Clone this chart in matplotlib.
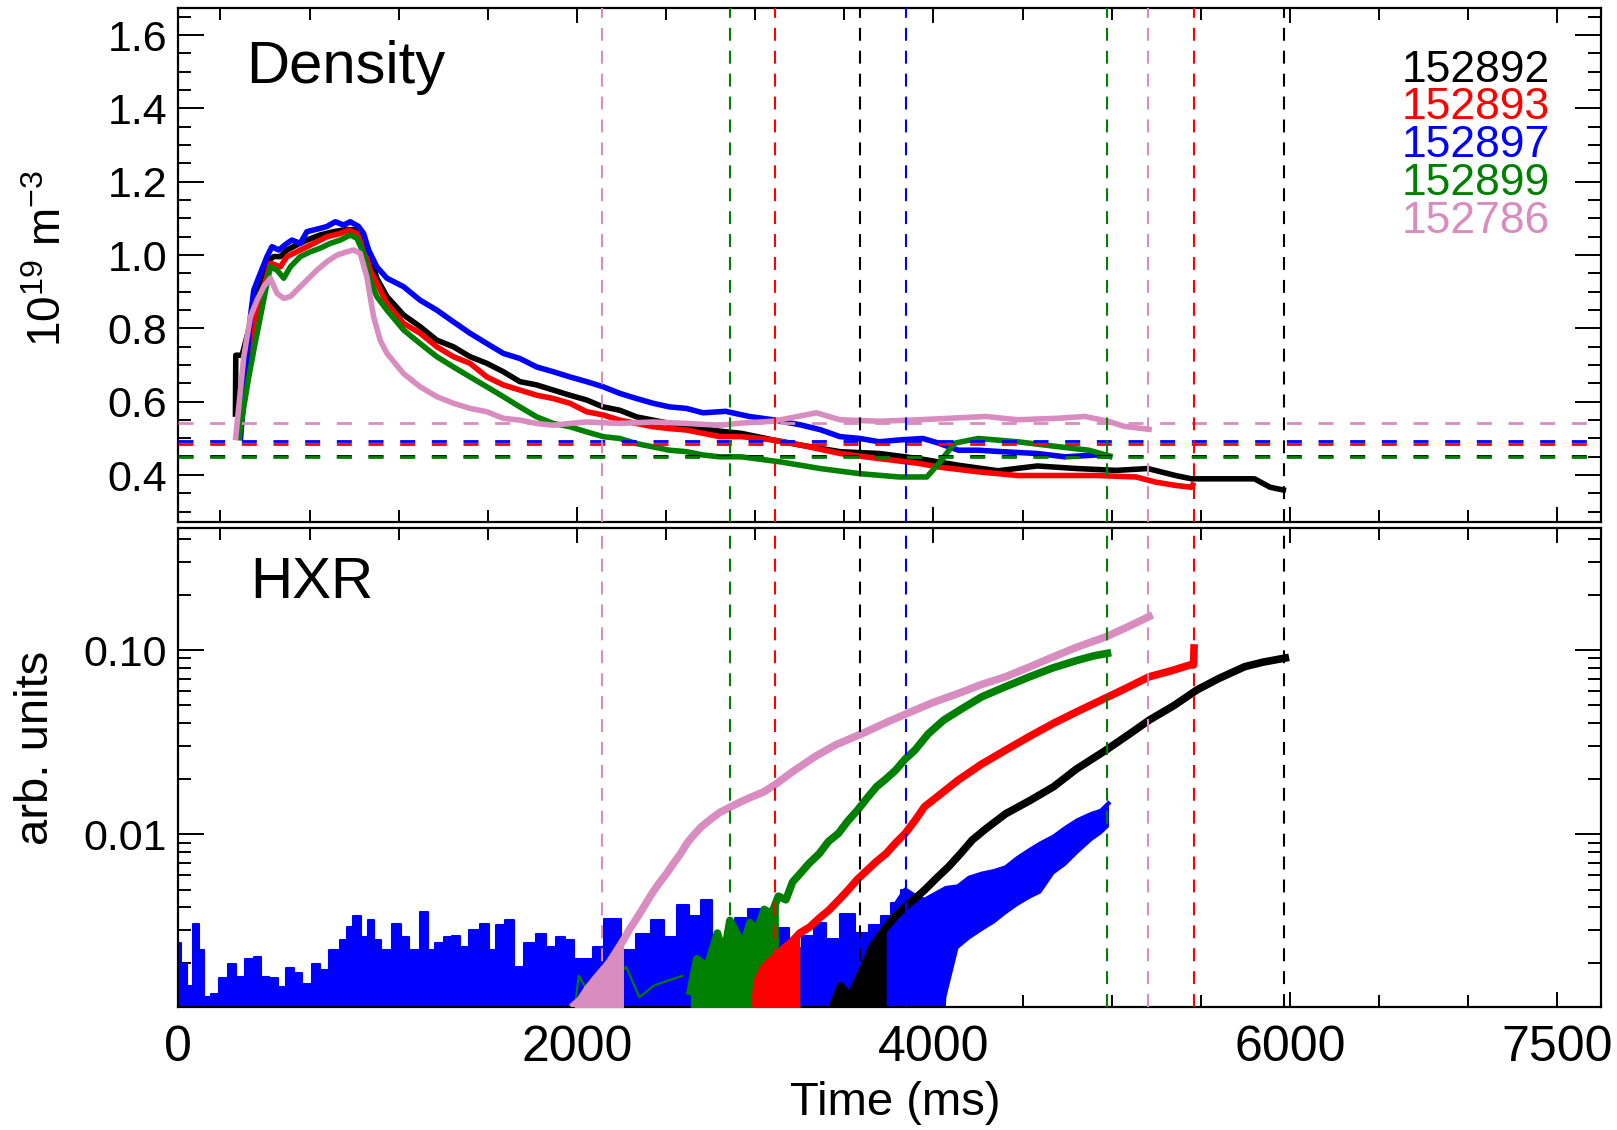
import numpy as np
import matplotlib
matplotlib.use("Agg")
import matplotlib.pyplot as plt
from matplotlib.ticker import FixedLocator, LogLocator, NullFormatter, FixedFormatter

plt.rcParams['font.family'] = ['Liberation Sans', 'DejaVu Sans']
plt.rcParams['mathtext.fontset'] = 'custom'
plt.rcParams['mathtext.rm'] = 'Liberation Sans'
plt.rcParams['mathtext.it'] = 'Liberation Sans:italic'

# ---------------- data ----------------
shots = ['152892', '152893', '152897', '152899', '152786']
shot_colors = ['#000000', '#ff0000', '#0000ff', '#008000', '#d98cbf']

# Density (1e19 m^-3)
dens_t_152892 = [84, 86, 121, 168, 205, 261, 299, 336, 373, 429, 485, 560, 635, 709, 765, 803, 840, 877, 934,
                 1027, 1120, 1214, 1307, 1400, 1494, 1587, 1680, 1774, 1867, 1960, 2054, 2147, 2240, 2334,
                 2427, 2520, 2614, 2707, 2800, 2922, 3100, 3255, 3476, 3697, 3919, 4140, 4362, 4583, 4805,
                 5026, 5203, 5358, 5447, 5579, 5801, 5889, 5978]
dens_v_152892 = [0.559, 0.727, 0.727, 0.814, 0.905, 0.982, 0.996, 0.996, 1.014, 1.028, 1.041, 1.055, 1.064,
                 1.070, 1.068, 1.050, 0.996, 0.937, 0.887, 0.837, 0.805, 0.768, 0.750, 0.723, 0.705, 0.682,
                 0.655, 0.646, 0.632, 0.618, 0.605, 0.586, 0.577, 0.559, 0.550, 0.541, 0.532, 0.527, 0.520,
                 0.514, 0.496, 0.482, 0.464, 0.459, 0.445, 0.427, 0.412, 0.425, 0.418, 0.413, 0.418, 0.399,
                 0.390, 0.390, 0.390, 0.367, 0.358]

dens_t_152893 = [112, 149, 187, 224, 280, 336, 373, 448, 523, 597, 672, 719, 765, 803, 840, 896, 934, 1027,
                 1120, 1214, 1307, 1400, 1494, 1587, 1680, 1774, 1867, 1960, 2054, 2147, 2240, 2334, 2427,
                 2520, 2614, 2707, 2800, 2922, 3100, 3255, 3476, 3697, 3919, 4030, 4251, 4472, 4694, 4915,
                 5137, 5247, 5358, 5447, 5462]
dens_v_152893 = [0.523, 0.677, 0.814, 0.877, 0.978, 0.968, 0.996, 1.014, 1.032, 1.050, 1.059, 1.068, 1.059,
                 1.023, 0.959, 0.905, 0.868, 0.814, 0.787, 0.750, 0.723, 0.705, 0.668, 0.646, 0.632, 0.618,
                 0.609, 0.596, 0.573, 0.564, 0.550, 0.541, 0.532, 0.527, 0.523, 0.514, 0.505, 0.505, 0.496,
                 0.482, 0.459, 0.445, 0.432, 0.422, 0.409, 0.399, 0.399, 0.399, 0.395, 0.381, 0.372, 0.367,
                 0.380]

dens_t_152897 = [112, 168, 187, 261, 289, 327, 373, 401, 448, 485, 560, 597, 644, 691, 728, 775, 803, 831,
                 877, 934, 1027, 1120, 1214, 1307, 1400, 1494, 1587, 1680, 1774, 1867, 1960, 2054, 2147,
                 2240, 2334, 2427, 2520, 2614, 2707, 2834, 2967, 3100, 3255, 3365, 3476, 3587, 3697, 3808,
                 3941, 4030, 4140, 4251, 4384, 4583, 4738, 4915, 5004]
dens_v_152897 = [0.495, 0.832, 0.905, 0.996, 1.023, 1.014, 1.032, 1.041, 1.032, 1.064, 1.073, 1.078, 1.091,
                 1.082, 1.091, 1.078, 1.059, 1.014, 0.968, 0.937, 0.914, 0.877, 0.850, 0.818, 0.787, 0.759,
                 0.732, 0.718, 0.695, 0.682, 0.668, 0.655, 0.641, 0.623, 0.609, 0.596, 0.586, 0.582, 0.570,
                 0.574, 0.560, 0.551, 0.537, 0.524, 0.505, 0.500, 0.491, 0.496, 0.500, 0.487, 0.468, 0.468,
                 0.464, 0.459, 0.450, 0.455, 0.450]

dens_t_152899 = [103, 131, 159, 187, 224, 261, 280, 317, 355, 392, 448, 504, 560, 616, 672, 728, 765, 803,
                 840, 877, 934, 1027, 1120, 1214, 1307, 1400, 1494, 1587, 1680, 1774, 1867, 1960, 2054,
                 2147, 2240, 2334, 2427, 2520, 2614, 2707, 2800, 2922, 3144, 3365, 3587, 3808, 3963, 4030,
                 4118, 4251, 4472, 4694, 4871, 5004]
dens_v_152899 = [0.495, 0.586, 0.668, 0.741, 0.832, 0.923, 0.968, 0.959, 0.937, 0.968, 0.996, 1.009, 1.019,
                 1.032, 1.041, 1.055, 1.046, 1.005, 0.932, 0.887, 0.850, 0.796, 0.759, 0.723, 0.695, 0.668,
                 0.641, 0.614, 0.586, 0.559, 0.541, 0.532, 0.518, 0.505, 0.500, 0.486, 0.477, 0.468, 0.464,
                 0.455, 0.450, 0.450, 0.436, 0.418, 0.404, 0.395, 0.395, 0.432, 0.487, 0.500, 0.491, 0.478,
                 0.468, 0.450]

dens_t_152786 = [84, 131, 168, 205, 243, 280, 317, 355, 392, 429, 485, 541, 597, 653, 709, 747, 784, 821,
                 859, 896, 934, 1027, 1120, 1214, 1307, 1400, 1494, 1587, 1680, 1774, 1867, 1960, 2054,
                 2240, 2427, 2614, 2800, 2922, 3100, 3343, 3476, 3697, 3919, 4295, 4472, 4694, 4849, 4981,
                 5070, 5225]
dens_v_152786 = [0.495, 0.723, 0.832, 0.877, 0.914, 0.937, 0.896, 0.882, 0.887, 0.905, 0.932, 0.959, 0.982,
                 1.000, 1.009, 1.014, 1.005, 0.941, 0.832, 0.768, 0.732, 0.677, 0.641, 0.614, 0.596, 0.582,
                 0.573, 0.555, 0.550, 0.541, 0.536, 0.541, 0.545, 0.541, 0.545, 0.541, 0.536, 0.542, 0.547,
                 0.570, 0.551, 0.547, 0.551, 0.560, 0.551, 0.555, 0.560, 0.547, 0.533, 0.524]

# HXR (arb. units)
hxr_t_152892 = [3440, 3480, 3530, 3574, 3620, 3655, 3700, 3735, 3790, 3842, 3900, 3950, 4020, 4084, 4150,
                4218, 4300, 4405, 4540, 4674, 4800, 4968, 5100, 5210, 5350, 5478, 5600, 5746, 5850, 5974]
hxr_v_152892 = [0.0012, 0.0015, 0.0013, 0.0016, 0.0020, 0.00244, 0.0028, 0.00313, 0.0036, 0.00403, 0.0045,
                0.00497, 0.0058, 0.00664, 0.0078, 0.0093, 0.0108, 0.0129, 0.0152, 0.0181, 0.0225, 0.0286,
                0.035, 0.0416, 0.050, 0.0607, 0.070, 0.0812, 0.086, 0.0905]

hxr_t_152893 = [3000, 3011, 3050, 3092, 3140, 3199, 3250, 3306, 3360, 3413, 3470, 3521, 3575, 3628, 3680,
                3735, 3790, 3842, 3900, 3950, 4040, 4137, 4270, 4405, 4540, 4674, 4800, 4942, 5080, 5210,
                5330, 5440, 5459, 5462]
hxr_v_152893 = [0.0012, 0.0016, 0.0019, 0.00207, 0.0023, 0.00257, 0.0029, 0.00313, 0.0035, 0.00386, 0.0044,
                0.00497, 0.0057, 0.00637, 0.0071, 0.00785, 0.009, 0.0101, 0.012, 0.0141, 0.0165, 0.0196,
                0.024, 0.0286, 0.034, 0.040, 0.046, 0.0535, 0.062, 0.0716, 0.077, 0.083, 0.083, 0.1026]

hxr_t_152897 = [-238, -203, -169, -134, -110, -75, -29, 18, 64, 111, 169, 204, 250, 297, 344, 390, 437, 483,
                541, 576, 646, 693, 728, 763, 809, 844, 879, 926, 995, 1030, 1089, 1147, 1182, 1228, 1275,
                1321, 1368, 1426, 1484, 1531, 1566, 1624, 1671, 1740, 1799, 1857, 1903, 1962, 2008, 2066,
                2113, 2194, 2299, 2369, 2462, 2520, 2602, 2660, 2730, 2788, 2850, 2920, 2998, 3080, 3150,
                3230, 3300, 3360, 3430, 3521, 3600, 3680, 3735, 3790, 3842, 3900, 3950, 4003, 4070, 4137,
                4200, 4271, 4340, 4405, 4470, 4540, 4600, 4674, 4740, 4808, 4888, 4940, 4982]
hxr_v_152897 = [0.00255, 0.00198, 0.0015, 0.00327, 0.00234, 0.0013, 0.00136, 0.00165, 0.00198, 0.00168,
                0.0021, 0.00216, 0.00168, 0.00165, 0.00148, 0.00188, 0.00175, 0.00154, 0.00198, 0.00182,
                0.00234, 0.00266, 0.00313, 0.0036, 0.00277, 0.0034, 0.00266, 0.00234, 0.00327, 0.00277,
                0.00234, 0.00378, 0.00234, 0.00255, 0.00277, 0.0028, 0.00245, 0.003, 0.00327, 0.00234,
                0.0032, 0.0034, 0.0019, 0.00255, 0.00288, 0.00245, 0.00277, 0.00266, 0.0021, 0.0021,
                0.00245, 0.00345, 0.00234, 0.00288, 0.0034, 0.00277, 0.00411, 0.0036, 0.0044, 0.00255,
                0.0026, 0.0035, 0.0039, 0.0026, 0.0031, 0.0024, 0.0028, 0.0033, 0.0027, 0.0037,
                0.0029, 0.0032, 0.0036, 0.0042, 0.005, 0.0046, 0.0044, 0.0047, 0.0051, 0.0052,
                0.0058, 0.0061, 0.0063, 0.0066, 0.0074, 0.0082, 0.0089, 0.0097, 0.0108, 0.0119,
                0.0129, 0.0134, 0.0147]
hxr_lo_t_152897 = [4057, 4100, 4137, 4200, 4271, 4340, 4405, 4470, 4540, 4600, 4674, 4740, 4808, 4870, 4942, 4982]
hxr_lo_v_152897 = [0.0011, 0.0018, 0.0024, 0.0027, 0.003, 0.0033, 0.0037, 0.0041, 0.0045, 0.0048, 0.0061,
                   0.0068, 0.0079, 0.009, 0.0101, 0.011]

hxr_t_152899 = [1990, 2010, 2080, 2150, 2276, 2350, 2430, 2509, 2590, 2636, 2672, 2730, 2788, 2824, 2858,
                2905, 2931, 2970, 3011, 3050, 3092, 3130, 3172, 3210, 3252, 3300, 3360, 3410, 3467, 3520,
                3574, 3630, 3681, 3735, 3789, 3840, 3896, 3970, 4057, 4160, 4271, 4400, 4540, 4670, 4808,
                4900, 4976]
hxr_v_152899 = [0.0012, 0.0017, 0.0013, 0.0015, 0.0019, 0.0013, 0.0015, 0.0016, 0.0017, 0.0014, 0.0021,
                0.0019, 0.0029, 0.0022, 0.0034, 0.0028, 0.00245, 0.0033, 0.0030, 0.0039, 0.0037, 0.0046,
                0.0044, 0.0055, 0.0061, 0.0069, 0.00785, 0.0091, 0.0101, 0.0118, 0.0135, 0.0158, 0.0181,
                0.0200, 0.0223, 0.0255, 0.0286, 0.035, 0.0416, 0.048, 0.0557, 0.063, 0.0716, 0.080, 0.088,
                0.093, 0.096]

hxr_t_152786 = [1985, 2020, 2060, 2100, 2140, 2180, 2220, 2261, 2300, 2341, 2380, 2421, 2460, 2502, 2540,
                2582, 2620, 2663, 2700, 2743, 2800, 2864, 2920, 2985, 3050, 3119, 3200, 3333, 3450, 3601,
                3750, 3869, 4000, 4137, 4270, 4405, 4540, 4674, 4808, 4968, 5100, 5210]
hxr_v_152786 = [0.00118, 0.00126, 0.00145, 0.00162, 0.0018, 0.0020, 0.0023, 0.00266, 0.0031, 0.00356,
                0.0041, 0.00476, 0.0054, 0.0061, 0.0069, 0.00785, 0.0090, 0.0101, 0.0110, 0.0119, 0.0131,
                0.0141, 0.0150, 0.0160, 0.0170, 0.0188, 0.0215, 0.0263, 0.0305, 0.0352, 0.041, 0.046,
                0.052, 0.058, 0.065, 0.0716, 0.081, 0.092, 0.104, 0.118, 0.135, 0.152]

# reference markers
vline_times = [2140, 2858, 3110, 3588, 3845, 4976, 5202, 5462, 5969]
vline_shots = ['152786', '152899', '152893', '152892', '152897', '152899', '152786', '152893', '152892']
hline_vals = [0.542, 0.492, 0.484, 0.451, 0.449]
hline_shots = ['152786', '152897', '152893', '152892', '152899']

xtick_vals = [-238, 2000, 4000, 6000, 7500]
xtick_labels = ['0', '2000', '4000', '6000', '7500']

# ---------------- figure ----------------
col = dict(zip(shots, shot_colors))
fig = plt.figure(figsize=(16.17, 11.30), dpi=100)
ax1 = fig.add_axes([0.1101, 0.5383, 0.8800, 0.4550])
ax2 = fig.add_axes([0.1101, 0.1088, 0.8800, 0.4236])

XMIN, XMAX = -238, 7745

dens = {
    '152892': (dens_t_152892, dens_v_152892),
    '152893': (dens_t_152893, dens_v_152893),
    '152897': (dens_t_152897, dens_v_152897),
    '152899': (dens_t_152899, dens_v_152899),
    '152786': (dens_t_152786, dens_v_152786),
}
for s in shots:
    t, v = dens[s]
    ax1.plot(t, v, color=col[s], lw=4.0, solid_joinstyle='round', solid_capstyle='butt', zorder=3)

for val, s in zip(hline_vals, hline_shots):
    ax1.axhline(val, color=col[s], lw=2.0, dashes=(5.4, 6.0), zorder=4)

for ax in (ax1, ax2):
    for tv, s in zip(vline_times, vline_shots):
        ax.axvline(tv, color=col[s], lw=1.5, dashes=(6.2, 4.8), zorder=6)

# HXR: blue first (behind), then the others
FLOOR = 1e-4
bt = np.array(hxr_t_152897, float)
bv = np.array(hxr_v_152897, float)
blo = np.interp(bt, hxr_lo_t_152897, hxr_lo_v_152897, left=FLOOR)
nm = bt <= 3842
ax2.fill_between(bt[nm], blo[nm], bv[nm], color=col['152897'], step='mid', lw=0, zorder=2)
ax2.plot(bt[nm], bv[nm], color=col['152897'], lw=1.5, drawstyle='steps-mid', zorder=2)
rm = bt >= 3790
ax2.fill_between(bt[rm], blo[rm], bv[rm], color=col['152897'], lw=0, zorder=2)
ax2.plot(bt[rm], bv[rm], color=col['152897'], lw=3.0, zorder=2)

hxr = {
    '152899': (hxr_t_152899, hxr_v_152899, 2600, 3150),
    '152786': (hxr_t_152786, hxr_v_152786, 1900, 2270),
    '152893': (hxr_t_152893, hxr_v_152893, 2900, 3300),
    '152892': (hxr_t_152892, hxr_v_152892, 3400, 3760),
}
for s in ['152899', '152786', '152893', '152892']:
    t, v, t0, t1 = hxr[s]
    t = np.array(t, float)
    v = np.array(v, float)
    m = (t >= t0) & (t <= t1)
    ax2.fill_between(t[m], FLOOR, v[m], color=col[s], lw=0, zorder=3)
    early = t <= t0
    ax2.plot(t[early], v[early], color=col[s], lw=1.5, zorder=3)
    main = t >= t0
    ax2.plot(t[main], v[main], color=col[s], lw=5.5, solid_joinstyle='round', zorder=3)

# axes styling
ax1.set_xlim(XMIN, XMAX)
ax2.set_xlim(XMIN, XMAX)
ax1.set_ylim(0.273, 1.675)
ax2.set_yscale('log')
ax2.set_ylim(0.00115, 0.458)

minor_x = [m for m in range(0, 7501, 500) if m not in (2000, 4000, 6000, 7500)]
for ax in (ax1, ax2):
    for sp in ax.spines.values():
        sp.set_linewidth(1.6)
    ax.xaxis.set_major_locator(FixedLocator(xtick_vals))
    ax.xaxis.set_minor_locator(FixedLocator(minor_x))
    ax.tick_params(which='both', direction='in', top=True, right=True, width=1.4, colors='black')
    ax.tick_params(axis='x', which='major', length=11)
    ax.tick_params(axis='x', which='minor', length=8.5)
    ax.tick_params(axis='y', which='major', length=19, labelsize=31, pad=8)
    ax.tick_params(axis='y', which='minor', length=9.5)

ax1.xaxis.set_major_formatter(NullFormatter())
ax2.xaxis.set_major_formatter(FixedFormatter(xtick_labels))
ax2.tick_params(axis='x', which='major', labelsize=36, pad=13)

ax1.yaxis.set_major_locator(FixedLocator([0.4, 0.6, 0.8, 1.0, 1.2, 1.4, 1.6]))
ax1.yaxis.set_major_formatter(FixedFormatter(['0.4', '0.6', '0.8', '1.0', '1.2', '1.4', '1.6']))
ax1.yaxis.set_minor_locator(FixedLocator(np.arange(0.30, 1.66, 0.05)))

ax2.yaxis.set_major_locator(FixedLocator([0.01, 0.1]))
ax2.yaxis.set_major_formatter(FixedFormatter(['0.01', '0.10']))
ax2.yaxis.set_minor_locator(LogLocator(base=10, subs=np.arange(2, 10)))
ax2.yaxis.set_minor_formatter(NullFormatter())

ax1.text(0.048, 0.854, 'Density', transform=ax1.transAxes, fontsize=43, va='baseline', ha='left')
ax2.text(0.051, 0.854, 'HXR', transform=ax2.transAxes, fontsize=42, va='baseline', ha='left')

leg_y = [0.877, 0.805, 0.731, 0.657, 0.584]
for s, yy in zip(shots, leg_y):
    ax1.text(0.964, yy, s, transform=ax1.transAxes, fontsize=32, color=col[s],
             ha='right', va='center')

fig.text(49 / 1617, 1 - 258 / 1130, r'10$^{\mathrm{19}}$ m$^{\mathrm{-3}}$', rotation=90,
         fontsize=33, ha='center', va='center')
fig.text(36 / 1617, 1 - 748 / 1130, 'arb. units', rotation=90, fontsize=34, ha='center', va='center')
fig.text(895 / 1617, 1 - 1103 / 1130, 'Time (ms)', fontsize=34, ha='center', va='center')

fig.savefig('out.png', dpi=100)
